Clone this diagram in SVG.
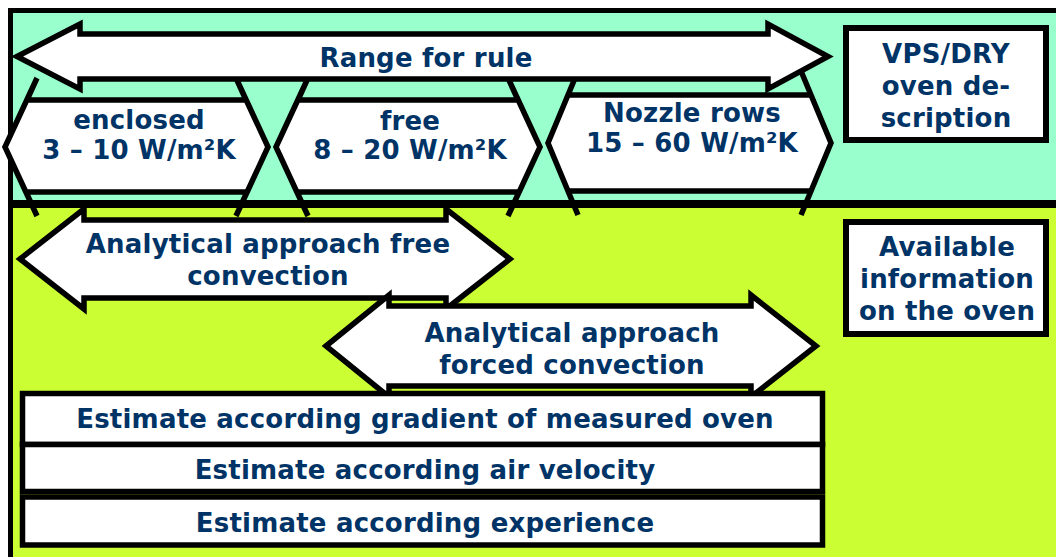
<svg xmlns="http://www.w3.org/2000/svg" width="1056" height="557" viewBox="0 0 1056 557">
<style>
.t{font-family:"DejaVu Sans",Verdana,sans-serif;font-weight:bold;font-size:26px;letter-spacing:0.2px;fill:#003366;text-anchor:middle}
.sh{fill:#ffffff;stroke:#000000;stroke-width:5.5;stroke-linejoin:miter}
.box{fill:#ffffff;stroke:#000000;stroke-width:6}
</style>
<g id="background">
<rect x="0" y="0" width="1056" height="557" fill="#ffffff"/>
<rect x="13" y="13" width="1043" height="189" fill="#99FFCC"/>
<rect x="13" y="206" width="1043" height="351" fill="#CCFF33"/>
<path d="M10.5 557 V10.5 H1056" fill="none" stroke="#000" stroke-width="5"/>
<rect x="8" y="200" width="1048" height="8" fill="#000"/>
</g>
<g id="connectors"></g>
<g id="enclosed">
<path class="sh" d="M5,147 L37,78 L27,100 L246,100 L236,78 L268,147 L236,216 L247,192 L26,192 L37,216 Z"/>
<text class="t" x="139" y="129">enclosed</text>
<text class="t" x="139" y="159">3 – 10 W/m²K</text>
</g>
<g id="free">
<path class="sh" d="M276,147 L308,78 L298,100 L518,100 L508,78 L540,147 L508,216 L519,192 L297,192 L308,216 Z"/>
<text class="t" x="410" y="130">free</text>
<text class="t" x="410" y="159">8 – 20 W/m²K</text>
</g>
<g id="nozzle">
<path class="sh" d="M548,143 L578,71 L568,95 L811,95 L801,71 L831,143 L801,215 L811,191 L568,191 L578,215 Z"/>
<text class="t" x="692" y="122">Nozzle rows</text>
<text class="t" x="692" y="152">15 – 60 W/m²K</text>
</g>
<g id="range">
<path class="sh" d="M17,56.5 L80,24 L80,34 L768,34 L768,24 L828,56.5 L768,89 L768,79 L80,79 L80,89 Z"/>
<text class="t" x="426" y="67">Range for rule</text>
</g>
<g id="vps">
<rect class="box" x="846" y="28" width="200" height="112"/>
<text class="t" x="946" y="63">VPS/DRY</text>
<text class="t" x="946" y="95">oven de-</text>
<text class="t" x="946" y="127">scription</text>
</g>
<g id="available">
<rect class="box" x="846" y="222" width="200" height="112"/>
<text class="t" x="947" y="256">Available</text>
<text class="t" x="947" y="288">information</text>
<text class="t" x="947" y="320">on the oven</text>
</g>
<g id="free-convection">
<path class="sh" d="M20,259 L84,209 L84,220 L446,220 L446,209 L510,259 L446,309 L446,298 L84,298 L84,309 Z"/>
<text class="t" x="268" y="253">Analytical approach free</text>
<text class="t" x="268" y="285">convection</text>
</g>
<g id="forced-convection">
<path class="sh" d="M326,346 L389,295 L389,306 L751,306 L751,295 L816,346 L751,397 L751,386 L389,386 L389,397 Z"/>
<text class="t" x="572" y="342">Analytical approach</text>
<text class="t" x="572" y="374">forced convection</text>
</g>
<g id="estimate-gradient">
<rect class="sh" x="22.5" y="393.5" width="800" height="51"/>
<text class="t" x="425" y="428">Estimate according gradient of measured oven</text>
</g>
<g id="estimate-velocity">
<rect class="sh" x="22.5" y="444.5" width="800" height="47"/>
<text class="t" x="425" y="479">Estimate according air velocity</text>
</g>
<g id="estimate-experience">
<rect class="sh" x="22.5" y="497" width="800" height="48"/>
<text class="t" x="425" y="532">Estimate according experience</text>
</g>
</svg>
